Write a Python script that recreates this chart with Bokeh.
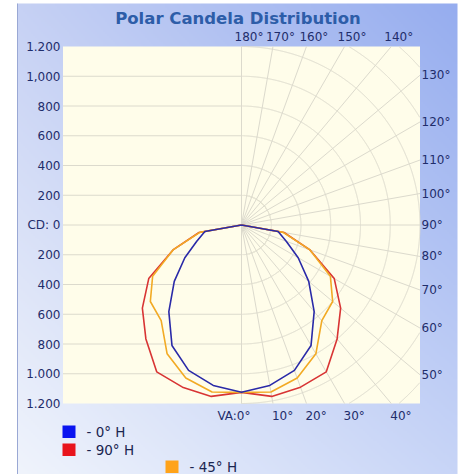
import numpy as np
from bokeh.plotting import figure
from bokeh.models import Range1d
from bokeh.core.properties import value
from bokeh.embed import file_html
from bokeh.resources import INLINE

# ---------------- data ----------------
title_text = "Polar Candela Distribution"
vertical_angles = [0, 10, 20, 30, 40, 50, 60, 70, 80, 90, 100, 110, 120, 130, 140, 150, 160, 170, 180]
cd_0H = [1125, 1095, 1040, 935, 760, 590, 440, 320, 250, 0, 0, 0, 0, 0, 0, 0, 0, 0, 0]
cd_90H = [1125, 1170, 1160, 1140, 1000, 870, 720, 490, 290, 0, 0, 0, 0, 0, 0, 0, 0, 0, 0]
cd_45H = [1125, 1140, 1095, 1000, 840, 800, 690, 490, 285, 0, 0, 0, 0, 0, 0, 0, 0, 0, 0]
series_names = ["- 0° H", "- 90° H", "- 45° H"]
cd_ticks = [1200, 1000, 800, 600, 400, 200, 0, -200, -400, -600, -800, -1000, -1200]
cd_tick_labels = ["1.200", "1,000", "800", "600", "400", "200", "CD: 0",
                  "200", "400", "600", "800", "1.000", "1.200"]
angle_ticks = [0, 10, 20, 30, 40, 50, 60, 70, 80, 90, 100, 110, 120, 130, 140, 150, 160, 170, 180]
angle_tick_labels = ["VA:0°", "10°", "20°", "30°", "40°", "50°", "60°", "70°", "80°", "90°",
                     "100°", "110°", "120°", "130°", "140°", "150°", "160°", "170°", "180°"]
grid_radii = [200, 400, 600, 800, 1000, 1200, 1400, 1600]

# ---------------- geometry (picture px <-> candela units) ----------------
K = 0.14875            # px per cd
CX, CY = 241.0, 224.5  # picture position of the polar centre
def px_x(px):
    return (px - CX) / K
def px_y(py):
    return (CY - py) / K
def px_len(n):
    return n / K

R = max(abs(v) for v in cd_ticks)
FW, FH = 466, 474

p = figure(width=FW, height=FH,
           x_range=Range1d(px_x(0), px_x(FW)), y_range=Range1d(px_y(FH), px_y(0)),
           output_backend="svg", toolbar_location=None,
           x_axis_location=None, y_axis_location=None, min_border=0)
p.outline_line_color = None
p.background_fill_color = "white"
p.border_fill_color = "white"
p.grid.grid_line_color = None

# ---------------- gradient panel ----------------
PX0, PX1, PY0, PY1 = 17, 457, 3, 474
W, H = 220, 236
tl = np.array([198, 209, 244]); tr = np.array([150, 173, 239])
bl = np.array([240, 244, 252]); br = np.array([200, 213, 247])
img = np.empty((H, W), dtype=np.uint32)
view = img.view(dtype=np.uint8).reshape((H, W, 4))
u = np.linspace(0, 1, W)[None, :, None]
v = np.linspace(0, 1, H)[:, None, None]  # 0 = bottom
top = tl * (1 - u) + tr * u
bot = bl * (1 - u) + br * u
col = bot * (1 - v) + top * v
view[:, :, :3] = col.astype(np.uint8)
view[:, :, 3] = 255
p.image_rgba(image=[img], x=px_x(PX0), y=px_y(PY1), dw=px_len(PX1 - PX0), dh=px_len(PY1 - PY0))
p.segment(x0=[px_x(PX0)], y0=[px_y(PY0)], x1=[px_x(PX0)], y1=[px_y(PY1)],
          line_color="#9aa8d4", line_width=1)

# ---------------- plot area ----------------
p.quad(left=[-R], right=[R], bottom=[-R], top=[R], fill_color="#fffdea", line_color=None)

grid_col = "#dcdacd"
# left half: horizontal lines
hl = [t for t in cd_ticks if abs(t) < R]
p.segment(x0=[-R] * len(hl), y0=hl, x1=[0] * len(hl), y1=hl, line_color=grid_col, line_width=1)

# right half: polar arcs
for r in grid_radii:
    th = np.linspace(0, np.pi, 1441)
    xs = r * np.sin(th)
    ys = -r * np.cos(th)
    mask = (np.abs(xs) > R) | (np.abs(ys) > R)
    xs = np.where(mask, np.nan, xs)
    ys = np.where(mask, np.nan, ys)
    p.line(xs, ys, line_color=grid_col, line_width=1)

# radial lines and angle labels
ends_x, ends_y = [], []
for a in angle_ticks:
    t = np.radians(a)
    s, c = np.sin(t), -np.cos(t)
    L = R / max(abs(s), abs(c))
    ends_x.append(L * s); ends_y.append(L * c)
p.segment(x0=[0] * len(ends_x), y0=[0] * len(ends_y), x1=ends_x, y1=ends_y,
          line_color=grid_col, line_width=1)

lab_font = value("DejaVu Sans")
lab_col = "#1f2d6b"
rx, ry, rt = [], [], []
tx, ty, tt = [], [], []
bx, by, bt = [], [], []
for a, lab, ex, ey in zip(angle_ticks, angle_tick_labels, ends_x, ends_y):
    if abs(ex) >= R - 1e-6 and abs(ey) < R - 1e-6:
        rx.append(R + px_len(1.5)); ry.append(ey); rt.append(lab)
    elif ey > 0:
        tx.append(ex - px_len(7)); ty.append(px_y(36.5)); tt.append(lab)
    else:
        if a == 0:
            p.text(x=[ex + px_len(9)], y=[px_y(415)], text=[lab], text_align="right",
                   text_baseline="middle", text_font=lab_font, text_font_size="12px",
                   text_color=lab_col)
        else:
            bx.append(ex - px_len(1)); by.append(px_y(415)); bt.append(lab)
for xs_, ys_, ts_ in ((rx, ry, rt), (tx, ty, tt), (bx, by, bt)):
    p.text(x=xs_, y=ys_, text=ts_, text_align="left", text_baseline="middle",
           text_font=lab_font, text_font_size="12px", text_color=lab_col)

# left cd labels
p.text(x=[px_x(60)] * len(cd_ticks), y=cd_ticks, text=cd_tick_labels, text_align="right",
       text_baseline="middle", text_font=lab_font, text_font_size="12px", text_color=lab_col)

# ---------------- curves ----------------
def outline(vals):
    th = np.radians(vertical_angles)
    r = np.array(vals, dtype=float)
    xr = r * np.sin(th); yr = -r * np.cos(th)
    xs = np.concatenate([-xr[::-1], xr[1:]])
    ys = np.concatenate([yr[::-1], yr[1:]])
    return xs, ys

line_colors = ["#d83434", "#f2aa24", "#2a2aa8"]
for vals, colr in zip([cd_90H, cd_45H, cd_0H], line_colors):
    xs, ys = outline(vals)
    p.line(xs, ys, line_color=colr, line_width=1.6)

# ---------------- title ----------------
p.text(x=[px_x(237.5)], y=[px_y(18)], text=[title_text], text_align="center",
       text_baseline="middle", text_font=value("DejaVu Sans"), text_font_style="bold",
       text_font_size="16.5px", text_color="#2d5da8")

# ---------------- legend ----------------
leg_colors = ["#0a14f0", "#e8141c", "#ffa31a"]
leg_sq = [(62, 425), (62, 443), (165, 460)]
leg_tx = [(86, 431.5), (86, 449.5), (189, 466)]
for name, colr, (sx, sy), (lx, ly) in zip(series_names, leg_colors, leg_sq, leg_tx):
    p.quad(left=[px_x(sx)], right=[px_x(sx + 13)], top=[px_y(sy)], bottom=[px_y(sy + 12.5)],
           fill_color=colr, line_color=None)
    p.text(x=[px_x(lx)], y=[px_y(ly)], text=[name], text_align="left", text_baseline="middle",
           text_font=value("DejaVu Sans"), text_font_size="13.5px", text_color="#1a2550")

open("out.html", "w").write(file_html(p, INLINE))
